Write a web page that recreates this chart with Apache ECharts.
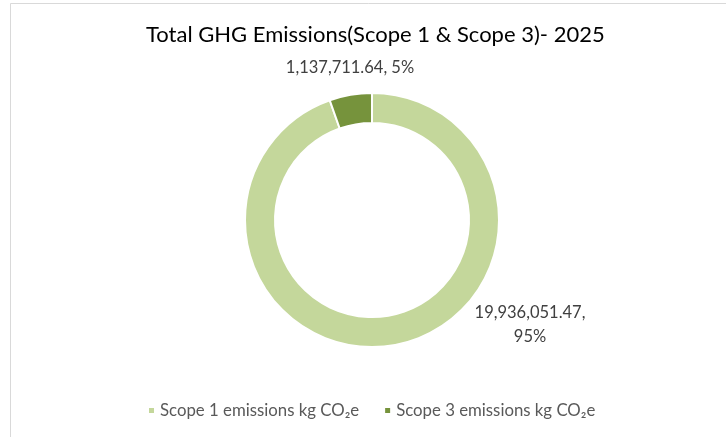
<!DOCTYPE html>
<html>
<head>
<meta charset="utf-8">
<script src="https://cdn.jsdelivr.net/npm/echarts@6/dist/echarts.min.js"></script>
<style>
html,body{margin:0;padding:0;background:#fff;}
#c{width:726px;height:437px;}
</style>
</head>
<body>
<div id="c"></div>
<script>
const categories = ['Scope 1 emissions kg CO\u2082e', 'Scope 3 emissions kg CO\u2082e'];
const values = [19936051.47, 1137711.64];
const labelTexts = ['19,936,051.47,\n95%', '1,137,711.64, 5%'];
const colors = ['#C4D79B', '#76933C'];

const chart = echarts.init(document.getElementById('c'));
const FONT = 'Lato, "Open Sans", sans-serif';
chart.setOption({
  animation: false,
  backgroundColor: '#fff',
  graphic: [{
    type: 'rect', left: 8, top: 1, silent: true,
    shape: { width: 730, height: 445 },
    style: { fill: 'none', stroke: '#d9d9d9', lineWidth: 1 }
  }],
  title: {
    text: 'Total GHG Emissions(Scope 1 & Scope 3)- 2025',
    left: 141, top: 19,
    textStyle: { fontFamily: FONT, fontSize: 22, fontWeight: 'normal', color: '#000' }
  },
  legend: {
    top: 397, left: 142,
    icon: 'rect', itemWidth: 7, itemHeight: 7, itemGap: 24,
    textStyle: { fontFamily: FONT, fontSize: 16.8, color: '#595959' },
    data: categories
  },
  series: [{
    type: 'pie',
    center: [372, 220],
    radius: [97, 127],
    startAngle: 90,
    clockwise: true,
    itemStyle: { borderColor: '#fff', borderWidth: 2 },
    label: {
      show: true, position: 'outside',
      formatter: p => labelTexts[p.dataIndex],
      fontFamily: FONT, fontSize: 16.5, color: '#404040', align: 'center', lineHeight: 24
    },
    labelLine: { show: false },
    labelLayout: function (p) {
      if (p.dataIndex === 0) return { x: 530, y: 325, align: 'center', verticalAlign: 'middle' };
      return { x: 350, y: 68, align: 'center', verticalAlign: 'middle' };
    },
    data: categories.map((c, i) => ({ name: c, value: values[i], itemStyle: { color: colors[i] } }))
  }]
});
</script>
</body>
</html>
